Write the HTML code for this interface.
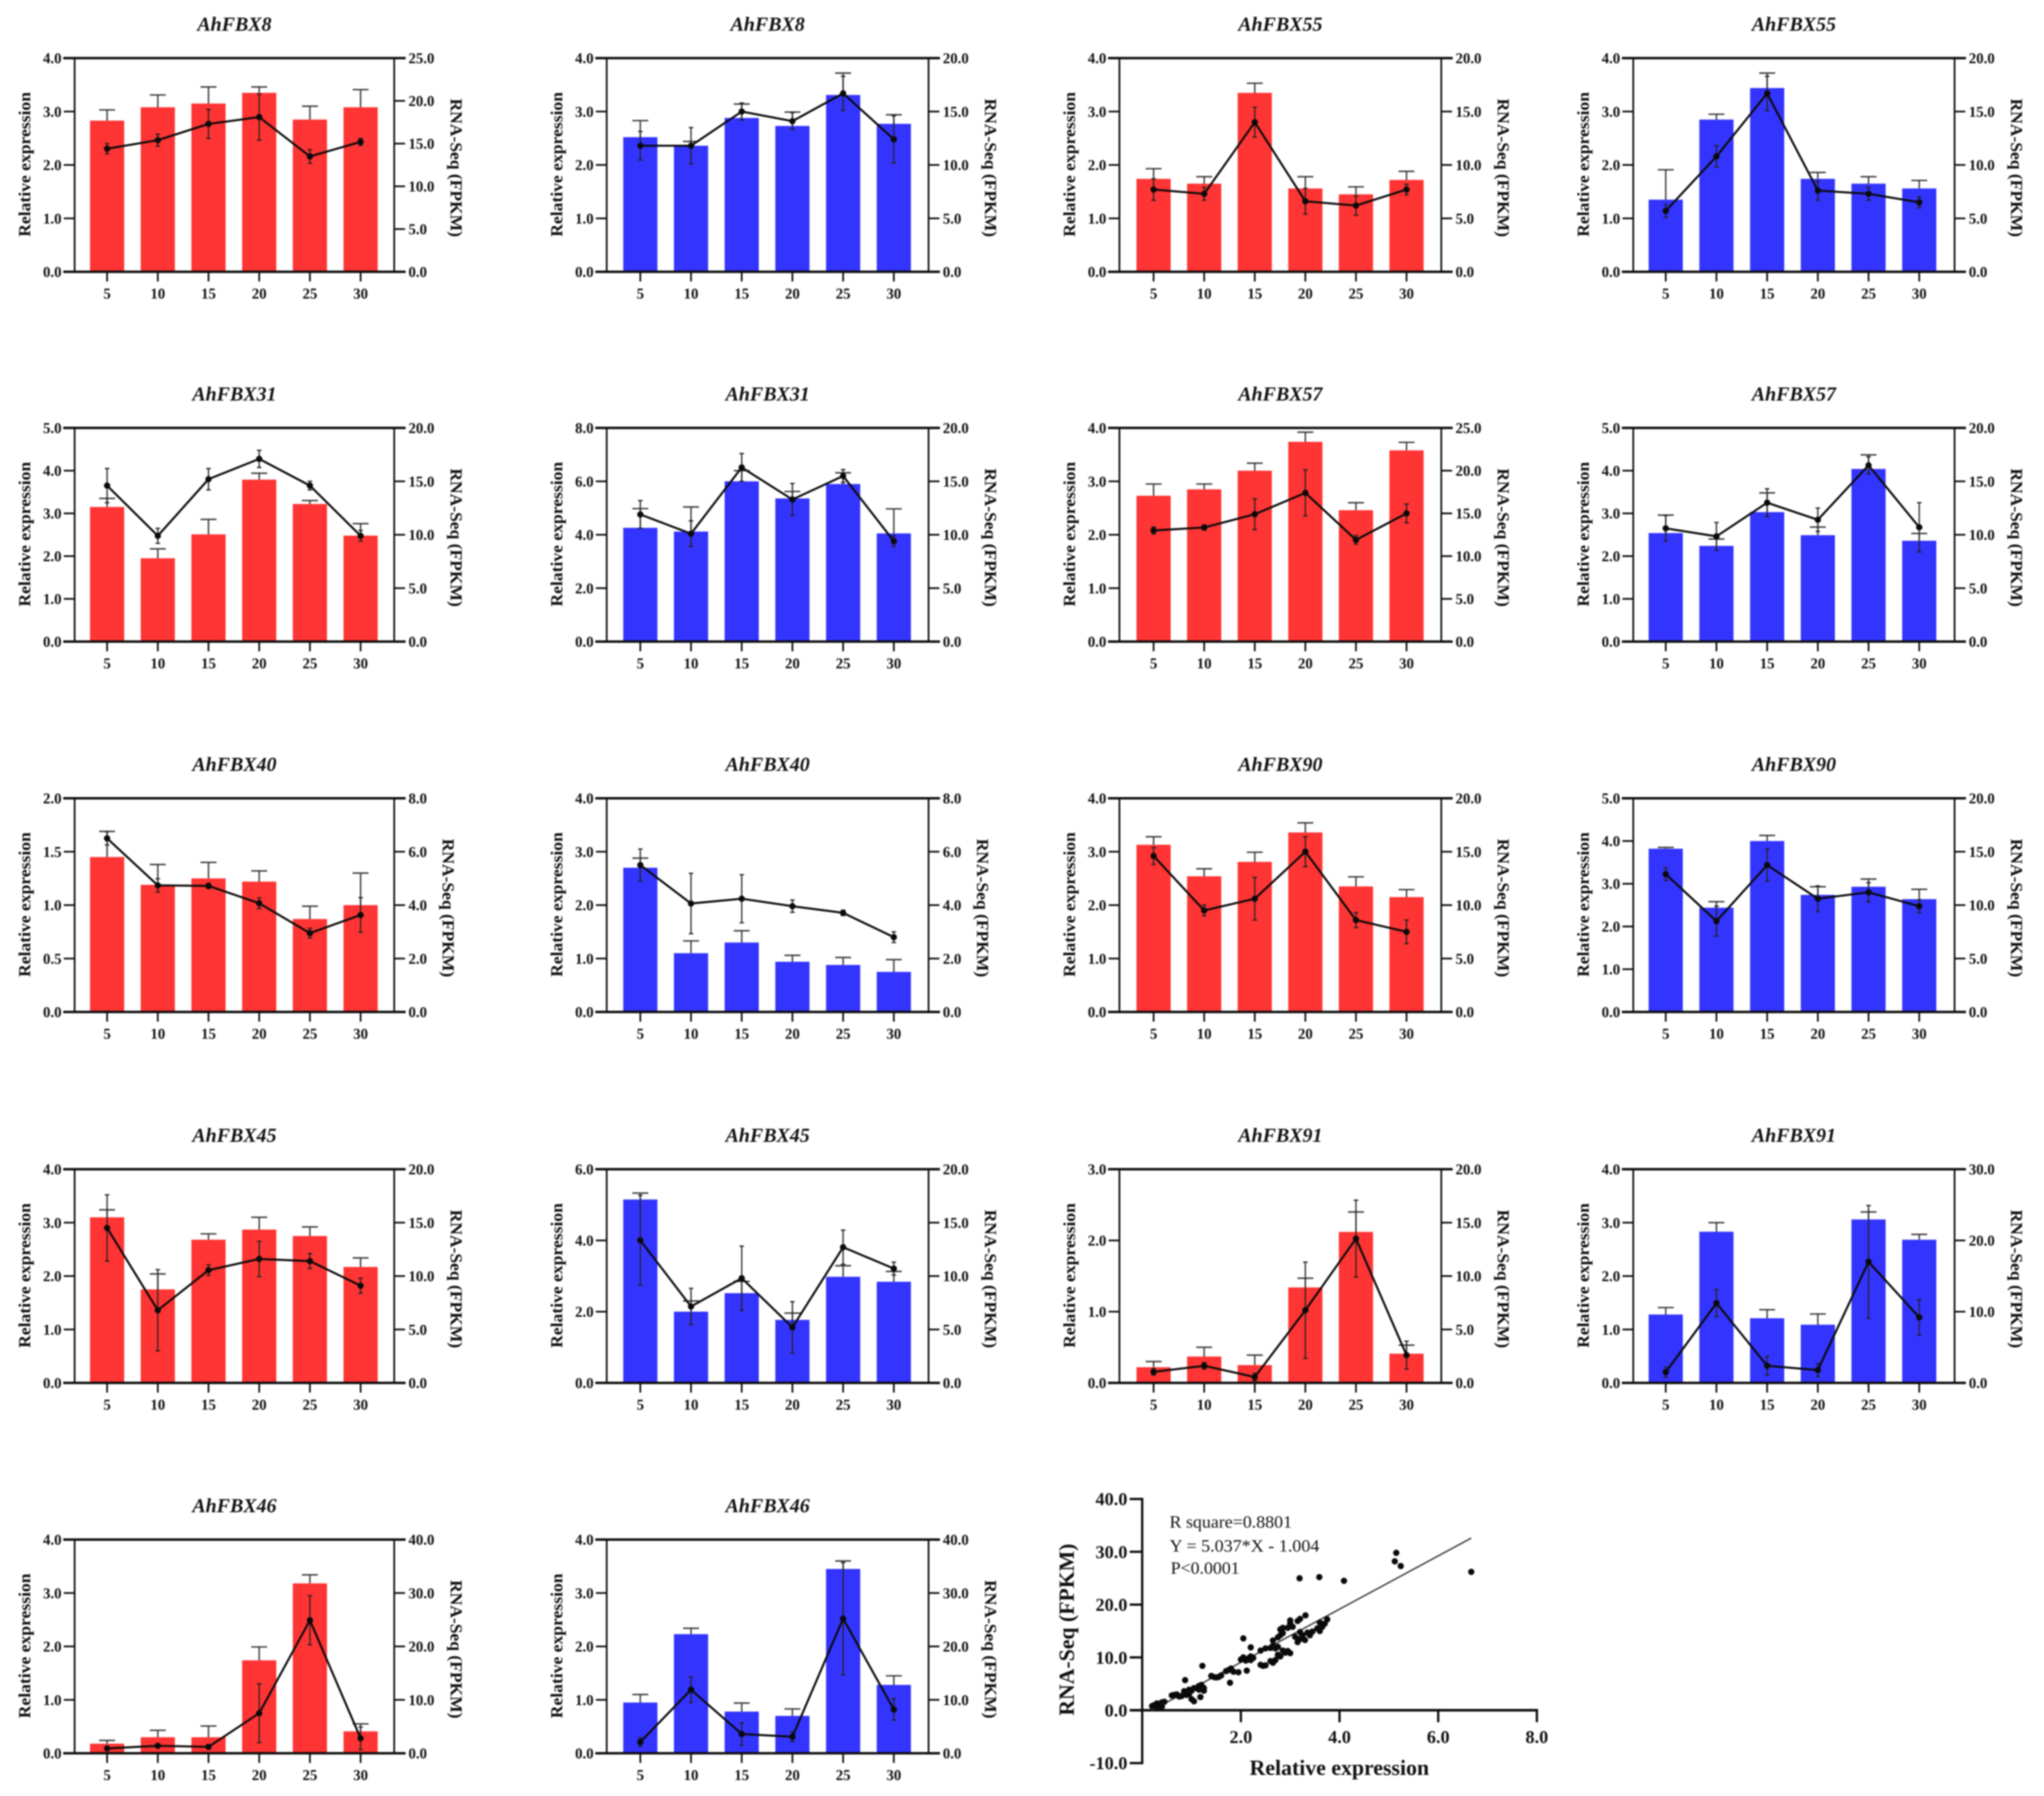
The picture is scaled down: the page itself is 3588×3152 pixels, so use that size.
<!DOCTYPE html>
<html>
<head>
<meta charset="utf-8">
<title>AhFBX relative expression and RNA-Seq charts</title>
<style>
html,body{margin:0;padding:0;background:#fff;width:3588px;height:3152px;overflow:hidden}
svg{display:block;filter:blur(1.2px)}
text{font-family:"Liberation Serif","DejaVu Serif",serif;fill:#111}
</style>
</head>
<body>
<svg id="figure" xmlns="http://www.w3.org/2000/svg" width="3588" height="3152" viewBox="0 0 3588 3152">
<rect x="0" y="0" width="3588" height="3152" fill="#ffffff"/>
</svg>
<script>
// ---- categories and tick labels ----
const categories = ["5","10","15","20","25","30"];
const ticks2 = ["0.0","0.5","1.0","1.5","2.0"];
const ticks3 = ["0.0","1.0","2.0","3.0"];
const ticks4 = ["0.0","1.0","2.0","3.0","4.0"];
const ticks5 = ["0.0","1.0","2.0","3.0","4.0","5.0"];
const ticks6 = ["0.0","2.0","4.0","6.0"];
const ticks8 = ["0.0","2.0","4.0","6.0","8.0"];
const rTicks8 = ["0.0","2.0","4.0","6.0","8.0"];
const rTicks20 = ["0.0","5.0","10.0","15.0","20.0"];
const rTicks25 = ["0.0","5.0","10.0","15.0","20.0","25.0"];
const rTicks30 = ["0.0","10.0","20.0","30.0"];
const rTicks40 = ["0.0","10.0","20.0","30.0","40.0"];

const panelTitles = ["AhFBX8","AhFBX8","AhFBX55","AhFBX55","AhFBX31","AhFBX31","AhFBX57","AhFBX57","AhFBX40","AhFBX40","AhFBX90","AhFBX90","AhFBX45","AhFBX45","AhFBX91","AhFBX91","AhFBX46","AhFBX46"];
const panelLeftTicks = [ticks4,ticks4,ticks4,ticks4,ticks5,ticks8,ticks4,ticks5,ticks2,ticks4,ticks4,ticks5,ticks4,ticks6,ticks3,ticks4,ticks4,ticks4];
const panelRightTicks = [rTicks25,rTicks20,rTicks20,rTicks20,rTicks20,rTicks20,rTicks25,rTicks20,rTicks8,rTicks8,rTicks20,rTicks20,rTicks20,rTicks20,rTicks20,rTicks30,rTicks40,rTicks40];

// ---- series values: bars (relative expression), bar upper caps, line (FPKM), line +/- error ----
const bars1=[2.83,3.08,3.15,3.35,2.85,3.08], caps1=[3.03,3.31,3.46,3.46,3.10,3.41], line1=[14.4,15.4,17.3,18.1,13.5,15.2], err1=[0.6,0.7,1.7,2.7,0.8,0.4];
const bars2=[2.52,2.36,2.88,2.73,3.31,2.77], caps2=[2.83,2.44,3.14,2.99,3.72,2.94], line2=[11.8,11.8,15.0,14.1,16.7,12.4], err2=[1.33,1.7,0.8,0.8,1.6,2.2];
const bars3=[1.74,1.65,3.35,1.56,1.45,1.72], caps3=[1.93,1.78,3.53,1.78,1.59,1.88], line3=[7.7,7.3,14.0,6.6,6.2,7.7], err3=[1.0,0.6,1.4,1.2,0.9,0.5];
const bars4=[1.35,2.85,3.44,1.74,1.65,1.56], caps4=[1.91,2.95,3.72,1.86,1.78,1.71], line4=[5.7,10.8,16.7,7.6,7.3,6.5], err4=[0.6,1.0,1.6,0.9,0.6,0.5];
const bars5=[3.15,1.95,2.51,3.79,3.22,2.48], caps5=[3.35,2.17,2.86,3.94,3.30,2.76], line5=[14.6,9.9,15.2,17.1,14.6,9.9], err5=[1.6,0.7,1.0,0.8,0.4,0.5];
const bars6=[4.26,4.12,6.0,5.36,5.9,4.05], caps6=[4.98,5.04,6.4,5.62,6.32,4.97], line6=[11.9,10.1,16.3,13.3,15.5,9.4], err6=[1.3,1.2,1.3,1.5,0.6,0.5];
const bars7=[2.73,2.85,3.2,3.74,2.46,3.58], caps7=[2.95,2.95,3.34,3.92,2.6,3.73], line7=[13.0,13.35,14.9,17.4,11.9,15.0], err7=[0.4,0.3,1.8,2.7,0.5,1.1];
const bars8=[2.54,2.24,3.03,2.49,4.04,2.36], caps8=[2.96,2.4,3.48,2.68,4.37,2.53], line8=[10.6,9.85,13.0,11.4,16.5,10.7], err8=[1.2,1.3,1.3,1.1,0.8,2.3];
const bars9=[1.45,1.19,1.25,1.22,0.87,1.0], caps9=[1.69,1.38,1.40,1.32,0.99,1.30], line9=[6.5,4.74,4.72,4.07,2.95,3.63], err9=[0.25,0.25,0.1,0.2,0.18,0.65];
const bars10=[2.70,1.10,1.30,0.94,0.88,0.75], caps10=[2.88,1.33,1.52,1.06,1.02,0.98], line10=[5.5,4.06,4.24,3.96,3.71,2.8], err10=[0.6,1.13,0.9,0.23,0.1,0.2];
const bars11=[3.13,2.54,2.81,3.36,2.35,2.15], caps11=[3.28,2.68,2.99,3.54,2.53,2.29], line11=[14.6,9.5,10.6,15.0,8.6,7.5], err11=[0.8,0.5,2.0,1.4,0.7,1.1];
const bars12=[3.82,2.44,4.0,2.74,2.93,2.64], caps12=[3.85,2.58,4.13,2.93,3.11,2.87], line12=[12.9,8.5,13.75,10.6,11.2,9.9], err12=[0.6,1.4,1.5,1.2,0.9,0.6];
const bars13=[3.1,1.75,2.68,2.87,2.75,2.17], caps13=[3.24,2.04,2.79,3.1,2.92,2.34], line13=[14.5,6.8,10.55,11.6,11.4,9.1], err13=[3.1,3.8,0.5,1.65,0.7,0.7];
const bars14=[5.15,2.0,2.52,1.77,2.98,2.84], caps14=[5.33,2.3,2.85,1.96,3.29,3.13], line14=[13.35,7.15,9.8,5.2,12.7,10.7], err14=[4.2,1.7,3.0,2.4,1.6,0.6];
const bars15=[0.22,0.37,0.25,1.34,2.12,0.41], caps15=[0.30,0.50,0.39,1.47,2.40,0.53], line15=[1.03,1.6,0.55,6.8,13.5,2.6], err15=[0.3,0.3,0.35,4.5,3.6,1.3];
const bars16=[1.28,2.83,1.21,1.09,3.06,2.68], caps16=[1.41,3.0,1.37,1.29,3.2,2.78], line16=[1.5,11.2,2.4,1.8,17.0,9.2], err16=[0.7,1.9,1.3,0.9,7.9,2.5];
const bars17=[0.18,0.30,0.30,1.74,3.18,0.41], caps17=[0.24,0.43,0.51,1.99,3.34,0.55], line17=[0.9,1.4,1.2,7.5,24.9,2.8], err17=[0.3,0.3,0.4,5.5,4.6,2.1];
const bars18=[0.95,2.23,0.78,0.70,3.45,1.28], caps18=[1.1,2.34,0.94,0.83,3.6,1.45], line18=[2.1,11.9,3.6,3.1,25.2,8.2], err18=[0.8,2.4,2.1,0.9,10.5,2.0];

const allBars=[bars1,bars2,bars3,bars4,bars5,bars6,bars7,bars8,bars9,bars10,bars11,bars12,bars13,bars14,bars15,bars16,bars17,bars18];
const allCaps=[caps1,caps2,caps3,caps4,caps5,caps6,caps7,caps8,caps9,caps10,caps11,caps12,caps13,caps14,caps15,caps16,caps17,caps18];
const allLines=[line1,line2,line3,line4,line5,line6,line7,line8,line9,line10,line11,line12,line13,line14,line15,line16,line17,line18];
const allErrs=[err1,err2,err3,err4,err5,err6,err7,err8,err9,err10,err11,err12,err13,err14,err15,err16,err17,err18];

// ---- scatter values ----
const scatterX=[0.2,0.25,0.3,0.3,0.35,0.4,0.4,0.45,0.6,0.65,0.7,0.75,0.8,0.85,0.85,0.9,0.95,0.95,1.0,1.05,0.87,1.0,1.05,1.18,1.1,1.15,1.15,1.2,1.25,1.25,1.22,1.4,1.45,1.5,1.55,1.6,1.7,1.75,1.8,1.78,1.85,1.95,2.12,2.0,2.05,2.1,2.15,2.2,2.2,2.25,2.05,2.2,2.4,2.45,2.5,2.4,2.5,2.6,2.65,2.7,2.6,2.65,2.7,2.65,2.75,2.8,2.8,2.85,2.85,2.75,2.75,2.8,2.85,2.9,2.95,3.0,2.95,3.0,3.0,3.05,3.15,3.2,3.1,3.15,3.2,3.25,3.3,3.35,3.4,3.45,3.2,3.55,3.6,3.6,3.65,3.7,3.75,3.31,3.19,3.59,4.09,5.15,5.12,5.24,6.67];
const scatterY=[0.8,1.0,0.6,1.3,1.0,1.5,0.7,1.6,2.8,2.9,3.0,2.6,2.7,3.0,3.6,2.9,3.1,3.9,3.7,4.2,5.7,2.1,1.7,2.5,4.2,4.6,3.9,4.8,4.2,3.7,8.4,6.5,6.3,6.2,6.3,6.6,7.4,7.6,7.9,5.2,7.3,7.2,7.5,9.6,10.0,9.4,9.8,9.5,10.2,9.9,13.6,11.9,8.6,8.4,8.5,11.3,11.7,9.3,9.0,9.5,11.8,12.2,11.7,13.2,13.8,14.2,15.3,14.6,15.6,12.0,10.5,10.2,11.3,10.9,11.2,10.8,15.6,16.4,17.0,15.8,16.9,17.3,13.9,12.9,13.5,14.2,13.3,14.7,14.2,14.9,14.8,15.5,16.6,15.0,15.8,16.4,17.2,17.96,24.98,25.2,24.5,29.8,28.2,27.3,26.2];
const scatterXTicks=["2.0","4.0","6.0","8.0"];
const scatterYTicks=["-10.0","0.0","10.0","20.0","30.0","40.0"];
const fitSlope=5.037, fitIntercept=-1.004, fitStartX=0.2, fitEndX=6.67;

// ---- layout ----
const plotLefts=[131,1065,1965,2867], plotRights=[692,1630,2530,3431];
const firstCenters=[188,1124,2025,2924], centerSteps=[89,89,88.8,89];
const plotTops=[102,751,1401,2052,2702];
const plotHeight=375, barWidth=60;
const RED="#ff3434", BLUE="#3434ff", INK="#0c0c0c";
const root=document.getElementById('figure');
const NS="http://www.w3.org/2000/svg";

function make(tag,attrs,parent,text){
  const el=document.createElementNS(NS,tag);
  for(const k in attrs){el.setAttribute(k,attrs[k]);}
  if(text!==undefined){el.textContent=text;}
  parent.appendChild(el);
  return el;
}

// Row/column slot of each panel in reading order.
function panelSlot(p){return [Math.floor(p/4),p%4];}

function drawPanel(p){
  const rc=panelSlot(p);
  const c=rc[1], top=plotTops[rc[0]], bottom=top+plotHeight;
  const left=plotLefts[c], right=plotRights[c];
  const lt=panelLeftTicks[p], rt=panelRightTicks[p];
  const lMax=parseFloat(lt[lt.length-1]), rMax=parseFloat(rt[rt.length-1]);
  const yL=v=>bottom-v/lMax*plotHeight;
  const yR=v=>bottom-v/rMax*plotHeight;
  const x=i=>firstCenters[c]+i*centerSteps[c];
  const color=p%2===0?RED:BLUE;

  const g=make('g',{},root);
  
  

  const title=make('text',{x:(left+right)/2,y:top-48,'text-anchor':'middle','font-size':35,'font-weight':'bold','font-style':'italic'},g,panelTitles[p]);
  
  

  categories.forEach((cat,i)=>{
    const bar=make('rect',{x:x(i)-barWidth/2,y:yL(allBars[p][i]),width:barWidth,height:bottom-yL(allBars[p][i]),fill:color},g);
    
    
    const capLine=make('path',{d:'M'+x(i)+' '+yL(allBars[p][i])+'V'+yL(allCaps[p][i])+'M'+(x(i)-14)+' '+yL(allCaps[p][i])+'H'+(x(i)+14),stroke:'#333',  'stroke-width':2.4,fill:'none'},g);
    
    
  });

  // axes
  const frame=[
    ['top-axis-line',left-20,top,right+20,top,4.2],
    ['bottom-axis-line',left-20,bottom,right+20,bottom,4.2],
    ['left-axis-line',left,top,left,bottom,3],
    ['right-axis-line',right,top,right,bottom,3]
  ];
  frame.forEach(f=>{
    const ln=make('line',{x1:f[1],y1:f[2],x2:f[3],y2:f[4],stroke:INK,'stroke-width':f[5]},g);
    
    
  });

  lt.forEach(lbl=>{
    const y=yL(parseFloat(lbl));
    const tk=make('line',{x1:left-19,y1:y,x2:left,y2:y,stroke:INK,'stroke-width':3},g);
    
    
    const t=make('text',{x:left-23,y:y+9,'text-anchor':'end','font-size':26,'font-weight':'bold'},g,lbl);
    
    
  });
  rt.forEach(lbl=>{
    const y=yR(parseFloat(lbl));
    const tk=make('line',{x1:right,y1:y,x2:right+19,y2:y,stroke:INK,'stroke-width':3},g);
    
    
    const t=make('text',{x:right+25,y:y+9,'font-size':26,'font-weight':'bold'},g,lbl);
    
    
  });
  categories.forEach((cat,i)=>{
    const tk=make('line',{x1:x(i),y1:bottom,x2:x(i),y2:bottom+17,stroke:INK,'stroke-width':3},g);
    
    
    const t=make('text',{x:x(i),y:bottom+47,'text-anchor':'middle','font-size':26,'font-weight':'bold'},g,cat);
    
    
  });

  // axis titles
  const midY=(top+bottom)/2;
  const lx=left-78, ly=midY-1;
  const yTitle=make('text',{x:lx,y:ly,transform:'rotate(-90 '+lx+' '+ly+')','text-anchor':'middle','font-size':30,'font-weight':'bold',textLength:254,lengthAdjust:'spacingAndGlyphs'},g,'Relative expression');
  
  
  const longest=Math.max(...rt.map(s=>s.length));
  const rx=right+(longest>=4?108:94)-9, ry=midY+5;
  const rTitle=make('text',{x:rx,y:ry,transform:'rotate(90 '+rx+' '+ry+')','text-anchor':'middle','font-size':30,'font-weight':'bold',textLength:243,lengthAdjust:'spacingAndGlyphs'},g,'RNA-Seq (FPKM)');
  
  

  // line series
  categories.forEach((cat,i)=>{
    const hi=yR(allLines[p][i]+allErrs[p][i]), lo=yR(allLines[p][i]-allErrs[p][i]);
    const er=make('path',{d:'M'+x(i)+' '+hi+'V'+lo+'M'+(x(i)-4)+' '+hi+'H'+(x(i)+4)+'M'+(x(i)-4)+' '+lo+'H'+(x(i)+4),stroke:'#222','stroke-width':2.2,fill:'none'},g);
    
    
  });
  const pts=categories.map((cat,i)=>x(i)+','+yR(allLines[p][i])).join(' ');
  const pl=make('polyline',{points:pts,fill:'none',stroke:'#0a0a0a','stroke-width':3.6,'stroke-linejoin':'round'},g);
  
  
  categories.forEach((cat,i)=>{
    const m=make('circle',{cx:x(i),cy:yR(allLines[p][i]),r:5.5,fill:'#0a0a0a'},g);
    
    
  });
}

for(let p=0;p<panelTitles.length;p++){drawPanel(p);}

// ---- scatter plot ----
(function(){
  const x0=2005, pxPerX=86.6, y0=3001.5, pxPerY=9.27;
  const sx=v=>x0+v*pxPerX;
  const sy=v=>y0-v*pxPerY;
  const g=make('g',{},root);
  
  

  const yAxis=make('line',{x1:x0,y1:sy(40)-2,x2:x0,y2:sy(-10)+2,stroke:INK,'stroke-width':4},g);
  
  
  const xAxis=make('line',{x1:x0-22,y1:sy(0),x2:sx(8)+2,y2:sy(0),stroke:INK,'stroke-width':4.5},g);
  
  

  scatterYTicks.forEach(lbl=>{
    const y=sy(parseFloat(lbl));
    const tk=make('line',{x1:x0-22,y1:y,x2:x0,y2:y,stroke:INK,'stroke-width':4},g);
    
    
    const t=make('text',{x:x0-26,y:y+11,'text-anchor':'end','font-size':32,'font-weight':'bold'},g,lbl);
    
    
  });
  scatterXTicks.forEach(lbl=>{
    const xx=sx(parseFloat(lbl));
    const tk=make('line',{x1:xx,y1:sy(0),x2:xx,y2:sy(0)+21,stroke:INK,'stroke-width':4},g);
    
    
    const t=make('text',{x:xx,y:3059,'text-anchor':'middle','font-size':32,'font-weight':'bold'},g,lbl);
    
    
  });

  const fit=make('line',{x1:sx(fitStartX),y1:sy(fitSlope*fitStartX+fitIntercept),x2:sx(fitEndX),y2:sy(fitSlope*fitEndX+fitIntercept),stroke:'#333','stroke-width':2.4},g);
  
  

  scatterX.forEach((v,i)=>{
    const d=make('circle',{cx:sx(v),cy:sy(scatterY[i]),r:5.5,fill:'#0a0a0a'},g);
    
    
  });

  const a1=make('text',{x:2053,y:2681,'font-size':31,textLength:215,lengthAdjust:'spacingAndGlyphs'},g,'R square=0.8801');
  
  
  const a2=make('text',{x:2053,y:2723,'font-size':31,textLength:263,lengthAdjust:'spacingAndGlyphs'},g,'Y = 5.037*X - 1.004');
  
  
  const a3=make('text',{x:2055,y:2762,'font-size':31,textLength:121,lengthAdjust:'spacingAndGlyphs'},g,'P<0.0001');
  
  

  const xt=make('text',{x:2351,y:3115,'text-anchor':'middle','font-size':38,'font-weight':'bold',textLength:315,lengthAdjust:'spacingAndGlyphs'},g,'Relative expression');
  
  
  const yt=make('text',{x:1885,y:2860,transform:'rotate(-90 1885 2860)','text-anchor':'middle','font-size':38,'font-weight':'bold',textLength:302,lengthAdjust:'spacingAndGlyphs'},g,'RNA-Seq (FPKM)');
  
  
})();
</script>
</body>
</html>
